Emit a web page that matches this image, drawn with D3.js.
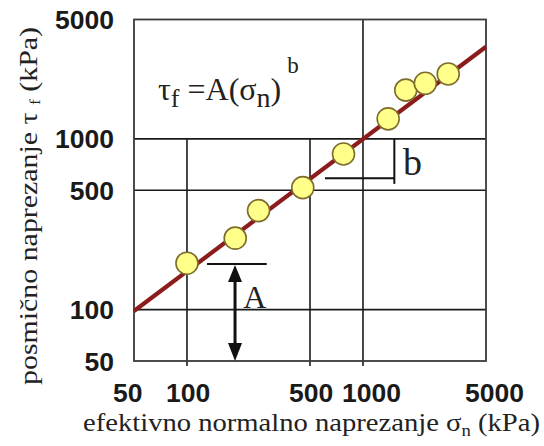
<!DOCTYPE html>
<html>
<head>
<meta charset="utf-8">
<script src="https://cdn.jsdelivr.net/npm/d3@7"></script>
<style>
  html, body { margin: 0; padding: 0; background: #fff; }
  svg { display: block; }
</style>
</head>
<body>
<svg id="chart" width="544" height="446"></svg>
<script>
// Effective normal stress (kPa) and shear strength (kPa) of the test points
const sigmaN = [100, 188, 255, 455, 775, 1390, 1750, 2260, 3050];
const tauF   = [187, 262, 380, 518, 815, 1310, 1930, 2115, 2400];

// Axis ticks
const xTicks = [50, 100, 500, 1000, 5000];
const yTicks = [50, 100, 500, 1000, 5000];

// Power-law envelope tau = A * sigma^b
const fitA = 4.75;
const fitB = 0.774;

// Grid lines
const yGrid = [100, 500, 1000];
const xGridFull = [1000];
const xGridLower = [100, 500];

const svg = d3.select("#chart");

const x = d3.scaleLog().domain([50, 5000]).range([134, 486]);
const y = d3.scaleLog().domain([50, 5000]).range([361, 19.5]);

const gridColor = "#1a1a1a";
const serif = "'Liberation Serif', 'Times New Roman', serif";
const sans = "'Liberation Sans', Arial, sans-serif";

// horizontal grid lines
svg.append("g").selectAll("line").data(yGrid).join("line")
  .attr("x1", x(50)).attr("x2", x(5000))
  .attr("y1", d => y(d)).attr("y2", d => y(d))
  .attr("stroke", gridColor).attr("stroke-width", 1.6);

// vertical grid lines (with short ticks below the frame)
svg.append("g").selectAll("line").data(xGridFull).join("line")
  .attr("x1", d => x(d)).attr("x2", d => x(d))
  .attr("y1", y(5000)).attr("y2", y(50) + 5)
  .attr("stroke", gridColor).attr("stroke-width", 1.6);
svg.append("g").selectAll("line").data(xGridLower).join("line")
  .attr("x1", d => x(d)).attr("x2", d => x(d))
  .attr("y1", y(1000)).attr("y2", y(50) + 5)
  .attr("stroke", gridColor).attr("stroke-width", 1.6);

// frame
svg.append("rect")
  .attr("x", x(50)).attr("y", y(5000))
  .attr("width", x(5000) - x(50)).attr("height", y(50) - y(5000))
  .attr("fill", "none").attr("stroke", "#3a3a3a").attr("stroke-width", 1.8);

// tick labels
svg.append("g").selectAll("text").data(yTicks).join("text")
  .attr("x", 114).attr("y", d => y(d))
  .attr("dy", "0.36em")
  .attr("text-anchor", "end")
  .attr("font-family", sans).attr("font-weight", "bold")
  .attr("font-size", 26.5)
  .attr("fill", "#1a1a1a")
  .text(d => d);

svg.append("g").selectAll("text").data(xTicks).join("text")
  .attr("x", d => x(d) - 21).attr("y", 402)
  .attr("text-anchor", "start")
  .attr("font-family", sans).attr("font-weight", "bold")
  .attr("font-size", 26.5)
  .attr("fill", "#1a1a1a")
  .text(d => d);

// annotation: intercept A
const annA = svg.append("g").attr("stroke", "#111").attr("fill", "#111");
annA.append("line")
  .attr("x1", x(130)).attr("x2", x(284))
  .attr("y1", y(185)).attr("y2", y(185))
  .attr("stroke-width", 2);
const ax = x(187.5);
annA.append("line")
  .attr("x1", ax).attr("x2", ax)
  .attr("y1", y(185) + 12).attr("y2", y(50) - 12)
  .attr("stroke-width", 3);
annA.append("path")
  .attr("d", `M${ax},${y(185) + 1} L${ax - 7},${y(185) + 18} L${ax + 7},${y(185) + 18} Z`)
  .attr("stroke", "none");
annA.append("path")
  .attr("d", `M${ax},${y(50)} L${ax - 7},${y(50) - 18} L${ax + 7},${y(50) - 18} Z`)
  .attr("stroke", "none");
svg.append("text")
  .attr("x", x(209)).attr("y", y(102))
  .attr("font-family", serif)
  .attr("font-size", 32).attr("fill", "#222")
  .text("A");

// annotation: slope b
const annB = svg.append("g").attr("stroke", "#111").attr("stroke-width", 2);
annB.append("line")
  .attr("x1", x(1507)).attr("x2", x(1507))
  .attr("y1", y(1000)).attr("y2", y(545));
annB.append("line")
  .attr("x1", x(608)).attr("x2", x(1507))
  .attr("y1", y(587)).attr("y2", y(587));
svg.append("text")
  .attr("x", x(1690)).attr("y", y(614))
  .attr("font-family", serif)
  .attr("font-size", 38).attr("fill", "#222")
  .text("b");

// fitted power law
const fitLine = d3.line()
  .x(d => x(d))
  .y(d => y(fitA * Math.pow(d, fitB)));
svg.append("path")
  .datum([50, 5000])
  .attr("d", fitLine)
  .attr("fill", "none")
  .attr("stroke", "#8c1c1c")
  .attr("stroke-width", 4.2);

// measured points
svg.append("g").selectAll("circle").data(sigmaN).join("circle")
  .attr("cx", d => x(d))
  .attr("cy", (d, i) => y(tauF[i]))
  .attr("r", 11)
  .attr("fill", "#ffff8a")
  .attr("stroke", "#7d6d2a")
  .attr("stroke-width", 1.6);

// equation
const eq = svg.append("text")
  .attr("x", 158).attr("y", 100)
  .attr("font-family", serif).attr("font-size", 32).attr("fill", "#222");
eq.append("tspan").text("τ");
eq.append("tspan").attr("font-size", 26).attr("dy", 7).text("f");
eq.append("tspan").attr("dy", -7).text(" =A(σ");
eq.append("tspan").attr("font-size", 28).attr("dy", 7).text("n");
eq.append("tspan").attr("dy", -7).text(")");
eq.append("tspan").attr("font-size", 23).attr("dx", 6).attr("dy", -27).text("b");

// axis titles
const xt = svg.append("text")
  .attr("x", 83).attr("y", 431)
  .attr("textLength", 457).attr("lengthAdjust", "spacingAndGlyphs")
  .attr("font-family", serif).attr("font-size", 26).attr("fill", "#222");
xt.append("tspan").text("efektivno normalno naprezanje σ");
xt.append("tspan").attr("font-size", 17).attr("dy", 5).text("n");
xt.append("tspan").attr("dy", -5).text(" (kPa)");

const yt = svg.append("text")
  .attr("transform", "translate(37,385) rotate(-90)")
  .attr("textLength", 358).attr("lengthAdjust", "spacingAndGlyphs")
  .attr("font-family", serif).attr("font-size", 26).attr("fill", "#222");
yt.append("tspan").text("posmično naprezanje τ ");
yt.append("tspan").attr("font-size", 15).attr("dy", 3).text("f");
yt.append("tspan").attr("dy", -3).text(" (kPa)");
</script>
</body>
</html>
